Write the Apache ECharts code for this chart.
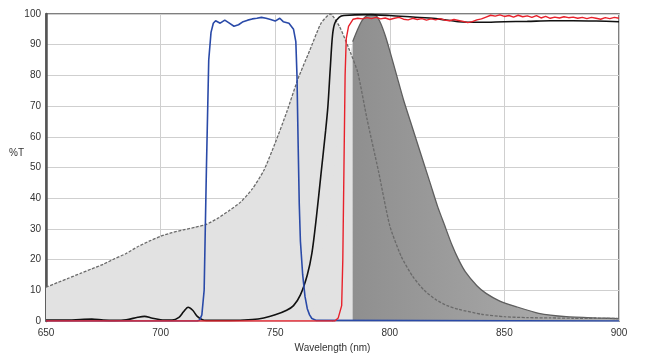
<!DOCTYPE html>
<html>
<head>
<meta charset="utf-8">
<title>Transmission spectra</title>
<script src="https://cdn.jsdelivr.net/npm/echarts@6/dist/echarts.min.js"></script>
<style>
  html, body { margin: 0; padding: 0; background: #fff; }
  #chart { width: 652px; height: 354px; }
</style>
</head>
<body>
<div id="chart"></div>
<script>
// axis ticks
var xTicks = [650, 700, 750, 800, 850, 900];
var yTicks = [0, 10, 20, 30, 40, 50, 60, 70, 80, 90, 100];

// excitation spectrum (dashed, light fill)
var excWl = [650, 655, 660, 665, 670, 675, 680, 685, 690, 695, 700, 705, 710, 715, 720, 725, 730, 735, 740, 745, 750, 755, 760, 765, 770, 774, 778, 782, 786, 790, 795, 800, 805, 810, 815, 820, 825, 830, 840, 850, 860, 870, 880, 890, 900];
var excT  = [11, 12.5, 14, 15.5, 17, 18.5, 20.3, 22, 24.2, 26, 27.6, 28.8, 29.7, 30.5, 31.5, 33.5, 36, 38.8, 43, 49, 58, 68, 79, 88, 97, 100, 96, 89, 81, 66, 49, 31, 21, 14.5, 10, 7, 5, 3.8, 2.2, 1.4, 1.1, 1, 0.9, 0.9, 0.8];

// emission spectrum (solid, dark fill from the filter edge)
var emWl = [766, 770, 775, 780, 783.8, 786, 788, 790, 792, 794, 796, 798, 800, 803, 806, 809, 812, 815, 818, 821, 824, 827, 830, 833, 838, 842, 848, 855, 865, 877, 890, 900];
var emT  = [0, 20, 45, 75, 91, 95, 98, 99.5, 100, 99.5, 97, 93, 88, 80, 72, 65, 58, 51, 44, 37, 31, 25, 20, 16, 11.5, 9, 6.5, 4.7, 2.5, 1.4, 1, 0.8];
var emEdge = 783.8;

// blue band-pass filter
var blueWl = [650, 716, 717, 718, 719, 720, 721, 722, 723, 724, 726, 728, 730, 732, 734, 736, 738, 740, 742, 744, 746, 748, 750, 752, 753.5, 756, 758, 759, 759.5, 760, 760.5, 761, 762, 763, 764, 765, 766, 768, 900];
var blueT  = [0, 0, 0.3, 2, 10, 50, 85, 94, 97, 97.8, 97, 98, 97, 96, 96.5, 97.5, 98, 98.4, 98.6, 98.9, 98.6, 98.2, 97.7, 98.6, 97.5, 97, 95, 91, 80, 58, 38, 26, 15, 8, 4, 2, 0.8, 0.2, 0];

// black long-pass curve
var blackWl = [650, 660, 665, 670, 675, 680, 685, 690, 693, 696, 700, 705, 708, 710, 712, 714, 716, 718, 720, 730, 740, 745, 750, 755, 758, 761, 764, 766, 768, 770, 772, 773, 774, 775, 776, 778, 780, 790, 800, 810, 820, 830, 840, 850, 860, 870, 880, 890, 900];
var blackT  = [0.3, 0.3, 0.5, 0.6, 0.3, 0.2, 0.4, 1.2, 1.5, 1, 0.4, 0.3, 1.2, 3, 4.5, 3.5, 1.5, 0.5, 0.2, 0.2, 0.5, 1, 2, 3.5, 5, 8.5, 15, 22, 34, 48, 62, 70, 82, 93, 97, 99, 99.5, 99.8, 99.5, 99, 98.5, 97.5, 97.3, 97.5, 97.6, 97.8, 97.8, 97.7, 97.5];

// red long-pass curve
var redWl = [650, 776, 777.5, 779, 779.5, 780, 780.5, 781, 782, 784, 786, 788, 790, 792, 794, 796, 798, 800, 802, 804, 806, 808, 810, 812, 814, 816, 818, 820, 822, 824, 826, 828, 830, 832, 834, 836, 838, 840, 842, 844, 846, 848, 850, 852, 854, 856, 858, 860, 862, 864, 866, 868, 870, 872, 874, 876, 878, 880, 882, 884, 886, 888, 890, 892, 894, 896, 898, 900];
var redT  = [0, 0, 1, 5, 20, 50, 80, 92, 96, 98.3, 98.6, 98.4, 98.8, 98.5, 98.9, 98.4, 98.7, 98.2, 98.6, 98.9, 98.3, 98.1, 98.6, 98.2, 98.5, 98.0, 98.4, 98.1, 98.5, 98.0, 97.8, 98.2, 97.9, 97.6, 97.2, 97.5, 98.1, 98.4, 99.0, 99.6, 99.3, 99.7, 99.2, 99.5, 99.0, 99.6, 99.1, 99.4, 98.9, 99.5, 98.7, 99.2, 98.6, 99.0, 98.7, 99.1, 98.8, 99.0, 98.6, 98.9, 98.5, 98.9, 98.6, 98.3, 98.8, 98.5, 98.9, 98.6];

function pairs(xs, ys) {
  return xs.map(function (x, i) { return [x, ys[i]]; });
}

var emLeft = [], emRight = [];
emWl.forEach(function (x, i) {
  if (x <= emEdge) emLeft.push([x, emT[i]]);
  if (x >= emEdge) emRight.push([x, emT[i]]);
});

var font = 'Liberation Sans, Arial, sans-serif';
var myChart = echarts.init(document.getElementById('chart'));

option = {
  animation: false,
  backgroundColor: '#fff',
  graphic: [{
    type: 'text', left: 9, top: 148,
    style: { text: '%T', fontFamily: font, fontSize: 10, fill: '#333' }
  }],
  grid: {
    left: 46, right: 33, top: 14, bottom: 33,
    containLabel: false,
    outerBoundsMode: 'none',
    show: true,
    borderColor: '#555',
    borderWidth: 1.5
  },
  xAxis: {
    type: 'value',
    min: 650, max: 900, interval: 50,
    name: 'Wavelength (nm)',
    nameLocation: 'middle',
    nameGap: 22,
    nameTextStyle: { fontFamily: font, fontSize: 10, color: '#333' },
    axisLine: { show: false },
    axisTick: { show: false },
    axisLabel: { fontFamily: font, fontSize: 10, color: '#333', margin: 7 },
    splitLine: { show: true, lineStyle: { color: '#cfcfcf', width: 1 } }
  },
  yAxis: {
    type: 'value',
    min: 0, max: 100, interval: 10,
    axisLine: { show: true, lineStyle: { color: '#555', width: 2.5 } },
    axisTick: { show: false },
    axisLabel: { fontFamily: font, fontSize: 10, color: '#333', margin: 5 },
    splitLine: { show: true, lineStyle: { color: '#cfcfcf', width: 1 } }
  },
  series: [
    {
      // light fill under excitation
      type: 'line', data: pairs(excWl, excT), symbol: 'none', smooth: 0.2,
      lineStyle: { width: 0 }, areaStyle: { color: '#e2e2e2', opacity: 1 }, z: 1
    },
    {
      // emission left of filter edge, light fill
      type: 'line', data: emLeft, symbol: 'none', smooth: 0.2,
      lineStyle: { width: 0 }, areaStyle: { color: '#e2e2e2', opacity: 1 }, z: 1
    },
    {
      // emission right of filter edge, dark fill
      type: 'line', data: emRight, symbol: 'none', smooth: 0.2,
      lineStyle: { color: '#5e5e5e', width: 1.3 },
      areaStyle: {
        opacity: 1,
        color: new echarts.graphic.LinearGradient(0, 0, 1, 0, [
          { offset: 0, color: '#8f8f8f' },
          { offset: 1, color: '#b2b2b2' }
        ])
      },
      z: 2
    },
    {
      // excitation outline
      type: 'line', data: pairs(excWl, excT), symbol: 'none', smooth: 0.2,
      lineStyle: { color: '#6a6a6a', width: 1.3, type: [3, 1.5] }, z: 3
    },
    {
      type: 'line', data: pairs(blackWl, blackT), symbol: 'none', smooth: 0.3,
      lineStyle: { color: '#111', width: 1.6 }, z: 4
    },
    {
      type: 'line', data: pairs(blueWl, blueT), symbol: 'none',
      lineStyle: { color: '#2a4aa8', width: 1.6 }, z: 5
    },
    {
      type: 'line', data: pairs(redWl, redT), symbol: 'none',
      lineStyle: { color: '#e8212b', width: 1.4 }, z: 6
    }
  ]
};

myChart.setOption(option);
</script>
</body>
</html>
